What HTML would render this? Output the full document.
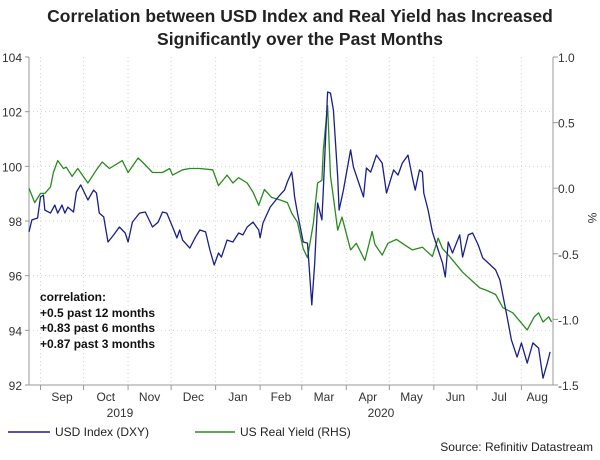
<!DOCTYPE html>
<html><head><meta charset="utf-8"><style>
body{margin:0;background:#fff;width:600px;height:455px;overflow:hidden;font-family:"Liberation Sans",sans-serif}
svg text{font-family:"Liberation Sans",sans-serif}
</style></head><body>
<svg id="chart" width="600" height="455" viewBox="0 0 600 455" xmlns="http://www.w3.org/2000/svg">
<text x="300" y="22" text-anchor="middle" font-size="17.5" font-weight="bold" fill="#222">Correlation between USD Index and Real Yield has Increased</text>
<text x="300" y="45" text-anchor="middle" font-size="17.5" font-weight="bold" fill="#222">Significantly over the Past Months</text>
<g id="grid"></g>
<g id="axes"></g>
<g id="series"></g>
<g font-size="12" font-weight="bold" fill="#111">
<text x="40" y="301">correlation:</text>
<text x="40" y="317">+0.5 past 12 months</text>
<text x="40" y="332">+0.83 past 6 months</text>
<text x="40" y="348">+0.87 past 3 months</text>
</g>
<text x="120" y="417" text-anchor="middle" font-size="12" fill="#333">2019</text>
<text x="381" y="417" text-anchor="middle" font-size="12" fill="#333">2020</text>
<text x="588" y="218" font-size="12" fill="#333" text-anchor="middle" transform="rotate(90 588 218)">%</text>
<g font-size="12" fill="#222">
<line x1="8" y1="432" x2="50" y2="432" stroke="#1a1f8c" stroke-width="1.5"/>
<text x="55" y="436">USD Index (DXY)</text>
<line x1="195" y1="432" x2="235" y2="432" stroke="#2a8c1f" stroke-width="1.5"/>
<text x="240" y="436">US Real Yield (RHS)</text>
</g>
<text x="593" y="451" text-anchor="end" font-size="12" fill="#222">Source: Refinitiv Datastream</text>
</svg>
<script>
const monthLabels=["Sep","Oct","Nov","Dec","Jan","Feb","Mar","Apr","May","Jun","Jul","Aug"];
const monthDays=[8,38,69,99,130,161,190,221,251,282,312,343];
const leftTicks=[92,94,96,98,100,102,104];
const rightTicks=[-1.5,-1.0,-0.5,0.0,0.5,1.0];
const dxyDays=[0,2,6,8,10,11,15,18,20,23,25,27,31,33,36,41,45,47,49,52,55,59,63,67,69,72,77,81,86,90,93,96,100,103,105,107,112,116,119,123,126,129,132,134,138,142,146,149,152,156,160,161,163,168,173,176,178,180,183,184,185,187,191,194,197,199,201,204,205,208,210,212,215,216,219,224,226,229,233,235,238,242,246,249,254,257,260,264,267,269,272,274,275,278,281,285,288,290,292,295,300,302,306,309,313,316,320,325,328,333,336,340,343,347,351,355,358,361,363];
const dxyValues=[97.6,98.04,98.11,98.88,98.95,98.4,98.29,98.58,98.29,98.58,98.29,98.51,98.33,99.06,99.32,98.77,99.13,99.02,98.29,98.15,97.23,97.49,97.78,97.56,97.23,97.96,98.29,98.33,97.78,97.96,98.33,98.29,97.78,97.38,97.67,97.3,97.01,97.41,97.67,97.6,96.94,96.39,96.83,96.68,97.3,97.23,97.56,97.49,97.78,97.96,97.67,97.38,97.93,98.51,98.84,99.02,99.13,99.43,99.79,99.39,98.88,98.29,97.23,97.19,94.93,96.46,98.66,98.04,99.13,102.72,102.68,102.06,99.61,98.4,99.13,100.6,99.98,99.5,98.88,99.94,99.79,100.41,100.12,99.02,99.87,99.68,100.12,100.41,99.61,99.13,99.87,99.79,99.02,98.4,97.6,96.94,96.46,95.95,97.23,96.83,97.49,96.68,97.49,97.56,97.12,96.65,96.46,96.21,95.84,94.49,93.65,93.02,93.54,92.8,93.54,93.35,92.25,92.8,93.21];
const ryDays=[0,4,8,11,15,17,20,24,26,30,34,41,47,51,56,65,69,76,79,86,93,98,100,107,112,119,128,132,138,142,146,152,156,160,164,169,175,180,183,187,191,194,198,201,204,205,208,210,212,215,218,224,228,234,239,241,246,250,256,260,267,274,281,285,288,293,302,309,314,319,325,330,337,347,352,355,358,362,364];
const ryValues=[0,-0.11,-0.04,-0.04,0.01,0.12,0.21,0.15,0.16,0.09,0.15,0.04,0.14,0.2,0.15,0.21,0.12,0.23,0.2,0.12,0.12,0.15,0.1,0.14,0.15,0.15,0.14,0.02,0.1,0.04,0.08,0.04,-0.03,-0.13,-0.01,-0.07,-0.09,-0.11,-0.19,-0.26,-0.46,-0.53,-0.27,0.04,0.06,0.29,0.63,0.09,-0.07,-0.32,-0.22,-0.47,-0.42,-0.55,-0.33,-0.43,-0.51,-0.42,-0.39,-0.42,-0.47,-0.45,-0.52,-0.38,-0.46,-0.52,-0.64,-0.71,-0.76,-0.78,-0.81,-0.91,-0.95,-1.08,-0.98,-0.95,-1.02,-0.98,-1.02];

const X0=29,X1=553,Y0=57,Y1=385;
const xs=d=>X0+(d/365)*(X1-X0);
const yL=v=>Y1-(v-92)/12*(Y1-Y0);
const yR=v=>Y1-(v+1.5)/2.5*(Y1-Y0);
const NS="http://www.w3.org/2000/svg";
function mk(tag,attrs,parent,txt){const e=document.createElementNS(NS,tag);for(const k in attrs)e.setAttribute(k,attrs[k]);if(txt!==undefined)e.textContent=txt;parent.appendChild(e);return e;}
const grid=document.getElementById('grid'),axes=document.getElementById('axes'),series=document.getElementById('series');
leftTicks.forEach(t=>{
  const y=yL(t);
  if(t>92&&t<104){const g=mk('line',{x1:X0,x2:X1,y1:y,y2:y,stroke:'#cfd8cf','stroke-dasharray':'1,3'},grid);
  
  }
  const tk=mk('line',{x1:X0-4,x2:X0,y1:y,y2:y,stroke:'#999'},axes);
  
  
  const lb=mk('text',{x:22,y:y+5,'text-anchor':'end','font-size':12,fill:'#333'},axes,String(t));
  
  
});
rightTicks.forEach(t=>{
  const y=yR(t);
  const tk=mk('line',{x1:X1,x2:X1+5,y1:y,y2:y,stroke:'#999'},axes);
  
  
  const lb=mk('text',{x:558,y:y+5,'font-size':12,fill:'#333'},axes,t.toFixed(1));
  
  
});
monthDays.forEach((d,i)=>{
  const x=xs(d);
  const g=mk('line',{x1:x,x2:x,y1:Y0,y2:Y1,stroke:'#cfd8cf','stroke-dasharray':'1,3'},grid);
  
  
  const tk=mk('line',{x1:x,x2:x,y1:Y1,y2:Y1+5,stroke:'#999'},axes);
  
  
  const nx=i<monthDays.length-1?xs(monthDays[i+1]):X1;
  const lb=mk('text',{x:(x+nx)/2,y:401,'text-anchor':'middle','font-size':12,fill:'#333'},axes,monthLabels[i]);
  
  
});
const la=mk('line',{x1:X0,x2:X0,y1:Y0,y2:Y1,stroke:'#999'},axes);


const ra=mk('line',{x1:X1,x2:X1,y1:Y0,y2:Y1,stroke:'#999'},axes);


const ba=mk('line',{x1:X0,x2:X1,y1:Y1,y2:Y1,stroke:'#999'},axes);


const ryPath=mk('polyline',{points:ryDays.map((d,i)=>xs(d).toFixed(1)+','+yR(ryValues[i]).toFixed(1)).join(' '),fill:'none',stroke:'#2a8c1f','stroke-width':1.3,'stroke-linejoin':'round'},series);


const dxyPath=mk('polyline',{points:dxyDays.map((d,i)=>xs(d).toFixed(1)+','+yL(dxyValues[i]).toFixed(1)).join(' '),fill:'none',stroke:'#1a1f8c','stroke-width':1.3,'stroke-linejoin':'round'},series);


</script>
</body></html>
